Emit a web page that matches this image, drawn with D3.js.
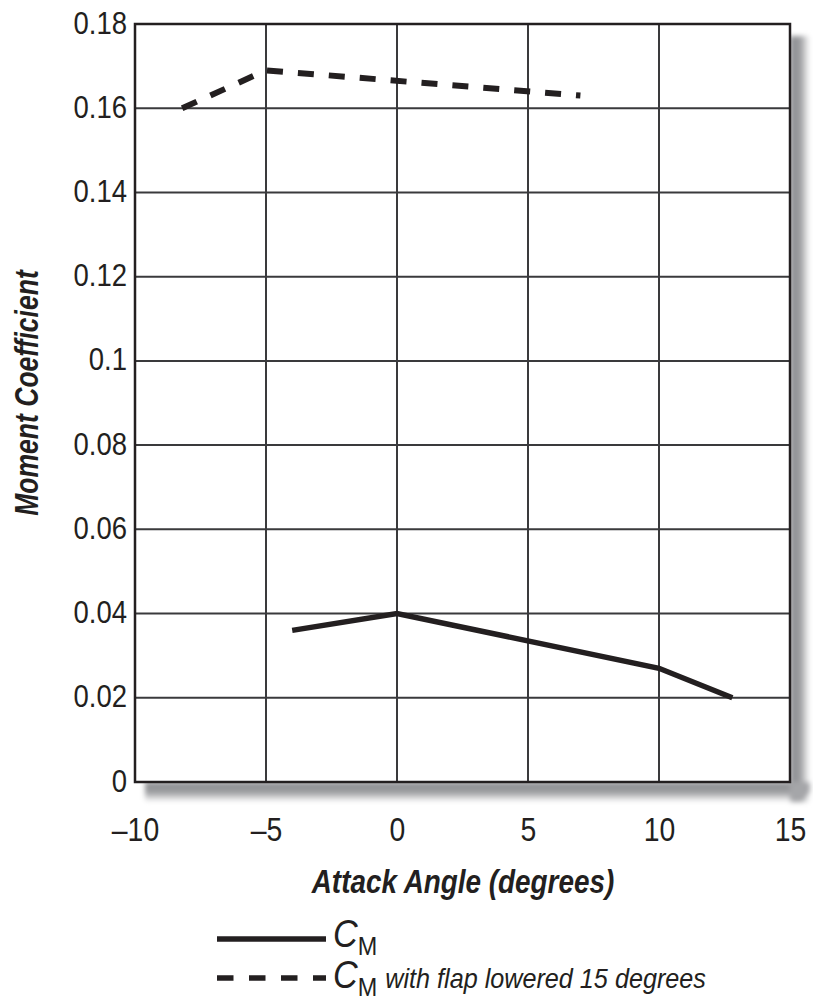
<!DOCTYPE html>
<html><head><meta charset="utf-8">
<script src="https://cdn.jsdelivr.net/npm/d3@7"></script>
<style>
body{margin:0;background:#fff;}
text{font-family:"Liberation Sans Narrow","Arial Narrow","Liberation Sans",sans-serif;fill:#231f20;}
</style></head><body>
<svg id="c" width="813" height="1000"></svg>
<script>
const xTicks = [-10,-5,0,5,10,15];
const yTicks = [0,0.02,0.04,0.06,0.08,0.1,0.12,0.14,0.16,0.18];
const yTickLabels = ["0","0.02","0.04","0.06","0.08","0.1","0.12","0.14","0.16","0.18"];
const xTickLabels = ["\u201310","\u20135","0","5","10","15"];
const cmAngles = [-4,0,10,12.8];
const cmValues = [0.036,0.040,0.027,0.020];
const flapAngles = [-8.2,-5,7];
const flapValues = [0.160,0.169,0.163];
const xTitle = "Attack Angle (degrees)";
const yTitle = "Moment Coefficient";
const legendLabels = ["", "with flap lowered 15 degrees"];

const svg = d3.select("#c");
const L=135,R=790,T=24,B=782;
const x = d3.scaleLinear().domain([-10,15]).range([L,R]);
const y = d3.scaleLinear().domain([0,0.18]).range([B,T]);
const ink="#231f20";
const SX = 0.86;

const defs = svg.append("defs");
const gR = defs.append("linearGradient").attr("id","gr").attr("x1","0").attr("x2","1").attr("y1","0").attr("y2","0");
gR.append("stop").attr("offset","0").attr("stop-color","#8d8e91");
gR.append("stop").attr("offset","0.5").attr("stop-color","#9a9b9e");
gR.append("stop").attr("offset","1").attr("stop-color","#fff");
const gB = defs.append("linearGradient").attr("id","gb").attr("x1","0").attr("x2","0").attr("y1","0").attr("y2","1");
gB.append("stop").attr("offset","0").attr("stop-color","#8d8e91");
gB.append("stop").attr("offset","0.5").attr("stop-color","#9a9b9e");
gB.append("stop").attr("offset","1").attr("stop-color","#fff");
const f = defs.append("filter").attr("id","bl").attr("x","-20%").attr("y","-20%").attr("width","140%").attr("height","140%");
f.append("feGaussianBlur").attr("stdDeviation","2.5");

// shadow
const sh = svg.append("g").attr("filter","url(#bl)");
sh.append("rect").attr("x",R).attr("y",T+12).attr("width",20).attr("height",B-T+8).attr("fill","url(#gr)");
sh.append("rect").attr("x",L+10).attr("y",B).attr("width",R-L-10).attr("height",20).attr("fill","url(#gb)");
sh.append("path").attr("d",`M${R},${B} h20 v10 q-5,10 -20,10 z`).attr("fill","#a5a6a9");

svg.append("rect").attr("x",L).attr("y",T).attr("width",R-L).attr("height",B-T).attr("fill","#fff");

// grid
const g = svg.append("g");
g.selectAll("line.v").data(xTicks.slice(1,-1)).join("line")
 .attr("x1",d=>x(d)).attr("x2",d=>x(d)).attr("y1",T).attr("y2",B)
 .attr("stroke","#3a3a3c").attr("stroke-width",2);
g.selectAll("line.h").data(yTicks.slice(1,-1)).join("line")
 .attr("y1",d=>y(d)).attr("y2",d=>y(d)).attr("x1",L).attr("x2",R)
 .attr("stroke","#3a3a3c").attr("stroke-width",2);
svg.append("rect").attr("x",L).attr("y",T).attr("width",R-L).attr("height",B-T)
 .attr("fill","none").attr("stroke",ink).attr("stroke-width",2.5);

// axes labels via d3 axes
const yAxis = svg.append("g").attr("transform",`translate(${L},0)`)
 .call(d3.axisLeft(y).tickValues(yTicks).tickFormat((d,i)=>yTickLabels[i]).tickSize(0).tickPadding(8));
yAxis.select(".domain").remove();
yAxis.selectAll("text").attr("font-size",32).attr("fill",ink)
 .attr("x",-8/SX).attr("dy",0).attr("y",9).attr("transform",`scale(${SX},1)`);

const xAxis = svg.append("g").attr("transform",`translate(0,${B})`)
 .call(d3.axisBottom(x).tickValues(xTicks).tickFormat((d,i)=>xTickLabels[i]).tickSize(0));
xAxis.select(".domain").remove();
xAxis.selectAll("text").attr("font-size",33).attr("fill",ink)
 .attr("y",59).attr("dy",0).attr("transform",`scale(${SX},1)`);

// titles
svg.append("g").attr("transform","translate(463,893) scale(0.82,1)")
 .append("text").attr("text-anchor","middle")
 .attr("font-size",34).attr("font-weight","bold").attr("font-style","italic").text(xTitle);
svg.append("g").attr("transform","translate(38,393) rotate(-90) scale(0.78,1)")
 .append("text").attr("text-anchor","middle")
 .attr("font-size",34).attr("font-weight","bold").attr("font-style","italic").text(yTitle);

// lines
const line = d3.line().x(d=>x(d[0])).y(d=>y(d[1]));
svg.append("path").datum(cmAngles.map((a,i)=>[a,cmValues[i]])).attr("d",line)
 .attr("fill","none").attr("stroke",ink).attr("stroke-width",5.5).attr("stroke-linejoin","miter");
svg.append("path").datum(flapAngles.map((a,i)=>[a,flapValues[i]])).attr("d",line)
 .attr("fill","none").attr("stroke",ink).attr("stroke-width",6).attr("stroke-dasharray","16,15");

// legend
const lg = svg.append("g");
const rowsY = [939, 978];
const textBase = [947, 988];
[0,1].forEach(i=>{
  const yy = rowsY[i];
  lg.append("line").attr("x1",217).attr("x2",326).attr("y1",yy).attr("y2",yy)
    .attr("stroke",ink).attr("stroke-width",5.5).attr("stroke-dasharray", i? "16.5,15.5":null);
  const gg = lg.append("g").attr("transform",`translate(333,${textBase[i]}) scale(0.9,1)`);
  const t = gg.append("text").attr("x",0).attr("y",0).attr("font-size",38);
  t.append("tspan").attr("font-style","italic").text("C");
  t.append("tspan").attr("font-size",26).attr("dy",8).text("M");
  if(legendLabels[i]) t.append("tspan").attr("dy",-8).attr("dx",9).attr("font-size",28).attr("font-style","italic").text(legendLabels[i]);
});
</script>
</body></html>
